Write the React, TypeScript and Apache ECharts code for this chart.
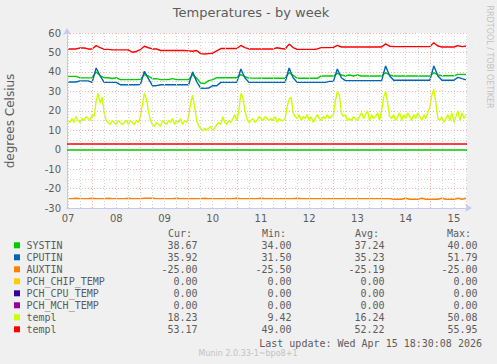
import React, { useEffect, useRef } from 'react';
import * as echarts from 'echarts';

const chartTitle = 'Temperatures - by week';
const yAxisTitle = 'degrees Celsius';
const watermark = 'RRDTOOL / TOBI OETIKER';
const lastUpdate = 'Last update: Wed Apr 15 18:30:08 2026';
const footer = 'Munin 2.0.33-1~bpo8+1';

// x values are hours after day "07" 00:00
const dayLabels = ['07', '08', '09', '10', '11', '12', '13', '14', '15'];
const startHour = 12;
const stepHours = 2;
const yellowStepHours = 1;
const axisMinHour = 11.5;
const axisMaxHour = 210.5;

const yTicks = { min: -30, max: 60, interval: 10 };

const systin = [
  37.7, 37.7, 37.7, 36.9, 36.9, 36.9, 36.9, 40.0, 38.0, 37.0,
  37.0, 36.6, 37.0, 36.0, 36.0, 36.0, 36.0, 36.0, 36.2, 38.6,
  37.8, 36.5, 36.5, 36.0, 36.0, 36.0, 36.5, 36.0, 36.0, 36.0,
  36.0, 38.5, 36.8, 34.3, 34.0, 35.5, 36.0, 37.0, 37.0, 37.0,
  37.0, 37.0, 37.0, 38.6, 37.5, 36.8, 36.8, 36.8, 36.7, 36.7,
  36.7, 36.7, 36.7, 36.7, 36.7, 39.6, 38.2, 36.7, 36.7, 36.7,
  36.7, 36.7, 36.7, 37.9, 37.9, 37.9, 37.9, 39.2, 38.4, 37.9,
  38.4, 37.9, 38.4, 37.9, 37.9, 37.9, 37.9, 37.9, 37.9, 39.6,
  38.5, 37.9, 37.9, 37.9, 37.9, 37.9, 37.9, 37.9, 37.9, 37.9,
  37.9, 39.6, 38.5, 38.0, 38.0, 38.0, 38.0, 38.7, 38.7, 38.67,
];
const cputin = [
  34.8, 34.8, 34.8, 35.4, 35.4, 35.4, 34.6, 42.0, 38.0, 34.6,
  34.6, 34.6, 34.6, 33.4, 33.4, 33.4, 33.4, 33.4, 33.5, 40.3,
  36.5, 32.9, 32.9, 33.4, 33.4, 33.4, 33.4, 33.4, 33.4, 33.4,
  33.4, 40.0, 35.0, 31.7, 31.5, 31.7, 32.9, 32.9, 34.6, 34.6,
  34.6, 34.6, 34.6, 41.5, 37.0, 34.6, 34.6, 34.6, 34.6, 34.6,
  34.6, 34.6, 34.6, 34.6, 34.6, 42.0, 37.0, 34.6, 34.6, 34.6,
  34.6, 34.6, 34.6, 34.6, 34.6, 35.1, 35.1, 41.5, 37.0, 35.5,
  35.5, 35.5, 35.5, 35.5, 35.5, 35.5, 35.5, 35.5, 35.5, 43.0,
  38.0, 35.7, 35.7, 35.7, 35.7, 35.7, 35.7, 35.7, 35.7, 35.7,
  35.7, 43.0, 38.0, 35.7, 35.7, 35.7, 35.7, 37.2, 36.5, 35.92,
];
const auxtin = [
  -25.2, -25.2, -25.0, -25.2, -25.2, -25.2, -25.0, -25.2, -25.2, -25.2,
  -25.0, -25.2, -25.2, -25.2, -25.2, -25.0, -25.2, -25.2, -25.2, -25.0,
  -25.0, -25.0, -25.2, -25.2, -25.2, -25.2, -25.2, -25.0, -25.2, -25.2,
  -25.2, -25.2, -25.2, -25.2, -25.0, -25.2, -25.2, -25.2, -25.2, -25.2,
  -25.2, -25.2, -25.0, -25.2, -25.2, -25.2, -25.2, -25.2, -25.0, -25.2,
  -25.2, -25.2, -25.2, -25.2, -25.2, -25.2, -25.2, -25.0, -25.2, -25.2,
  -25.2, -25.2, -25.2, -25.2, -25.2, -25.2, -25.2, -25.2, -25.2, -25.2,
  -25.2, -25.2, -25.2, -25.2, -25.2, -25.2, -25.2, -25.2, -25.2, -25.2,
  -25.2, -25.5, -25.5, -25.5, -25.0, -25.5, -25.5, -25.5, -25.0, -25.5,
  -25.5, -25.5, -25.5, -25.0, -25.5, -25.5, -25.5, -25.0, -25.5, -25.0,
];
// hourly samples
const temp1Yellow = [
  15, 14, 16, 14, 17, 15, 14, 16, 15, 17,
  16, 15, 18, 17, 25, 29, 24, 27, 19, 15,
  14, 13, 15, 14, 13, 15, 14, 13, 14, 15,
  13, 15, 14, 13, 15, 14, 17, 23, 29, 26,
  20, 15, 13, 12, 14, 13, 12, 15, 14, 13,
  15, 14, 16, 13, 15, 14, 16, 13, 15, 14,
  17, 24, 28, 22, 15, 12, 11, 9.5, 11, 10,
  11, 12, 10, 11, 13, 14, 13, 17, 14, 13,
  15, 14, 16, 18, 15, 20, 29, 27, 20, 16,
  14, 15, 16, 14, 15, 17, 16, 15, 17, 16,
  15, 16, 15, 17, 14, 16, 15, 15, 16, 22,
  26, 27, 19, 17, 16, 18, 15, 17, 16, 18,
  15, 17, 14, 16, 18, 16, 15, 17, 16, 18,
  16, 17, 18, 25, 30, 28, 19, 17, 18, 15,
  16, 15, 17, 16, 15, 17, 19, 16, 18, 20,
  15, 18, 16, 17, 19, 15, 20, 27, 30, 24,
  17, 16, 18, 15, 17, 19, 15, 18, 16, 19,
  17, 15, 18, 16, 19, 17, 15, 18, 16, 19,
  22, 28, 31, 24, 16, 15, 17, 14, 16, 18,
  15, 19, 14, 17, 20, 15, 19, 16, 18.23,
];
const temp1Red = [
  51.8, 51.8, 51.8, 52.3, 52.3, 51.8, 51.8, 53.5, 52.5, 51.6,
  51.6, 51.3, 51.3, 51.3, 51.3, 51.3, 50.1, 50.5, 51.5, 53.2,
  52.4, 51.8, 51.8, 51.0, 51.0, 51.0, 51.0, 51.0, 51.0, 51.0,
  50.8, 50.6, 51.0, 49.4, 49.2, 49.4, 49.6, 50.8, 52.0, 52.0,
  52.0, 52.0, 52.0, 53.6, 52.5, 51.8, 51.8, 51.8, 51.8, 51.8,
  51.8, 51.8, 52.4, 52.0, 51.8, 54.3, 52.5, 51.6, 51.6, 51.6,
  51.6, 51.6, 51.8, 52.5, 52.5, 52.5, 52.6, 53.6, 52.8, 52.8,
  52.8, 52.8, 52.8, 52.8, 52.8, 52.8, 52.8, 52.8, 52.8, 54.4,
  53.2, 53.0, 53.0, 53.0, 53.0, 53.0, 53.0, 53.0, 53.0, 53.0,
  53.0, 55.0, 53.3, 52.8, 52.8, 52.8, 52.8, 53.5, 53.0, 53.17,
];

// horizontal rule lines
const ruleValues = [3, 0];
const ruleColors = ['#ff0000', '#00cc00'];

const legendNames = ['SYSTIN', 'CPUTIN', 'AUXTIN', 'PCH_CHIP_TEMP', 'PCH_CPU_TEMP', 'PCH_MCH_TEMP', 'templ', 'templ'];
const legendColors = ['#00cc00', '#0066b3', '#ff8000', '#ffcc00', '#330099', '#990099', '#ccff00', '#ff0000'];
const curValues = ['38.67', '35.92', '-25.00', '0.00', '0.00', '0.00', '18.23', '53.17'];
const minValues = ['34.00', '31.50', '-25.50', '0.00', '0.00', '0.00', '9.42', '49.00'];
const avgValues = ['37.24', '35.23', '-25.19', '0.00', '0.00', '0.00', '16.24', '52.22'];
const maxValues = ['40.00', '51.79', '-25.00', '0.00', '0.00', '0.00', '50.08', '55.95'];
const columnHeaders = ['Cur:', 'Min:', 'Avg:', 'Max:'];

const plotted = [
  { values: systin, color: '#00cc00', step: stepHours },
  { values: cputin, color: '#0066b3', step: stepHours },
  { values: auxtin, color: '#ff8000', step: stepHours },
  { values: temp1Yellow, color: '#ccff00', step: yellowStepHours },
  { values: temp1Red, color: '#ff0000', step: stepHours },
];

const TEXT = '#5c5c5c';
const MONO = '"DejaVu Sans Mono", monospace';
const SANS = '"DejaVu Sans", sans-serif';
const MAJOR = '#f5b4b4';
const MINOR = '#d4d4d4';
const AXIS = '#c4c8f4';

function txt(text: string, x: number, y: number, opts: any = {}) {
  const align = opts.align || 'left';
  return {
    type: 'text',
    x,
    y,
    rotation: opts.rotation || 0,
    silent: true,
    style: {
      text,
      fill: opts.fill || TEXT,
      fontSize: opts.fontSize || 10,
      fontFamily: opts.fontFamily || MONO,
      textAlign: align,
      align,
      textVerticalAlign: 'middle',
      verticalAlign: 'middle',
    },
  };
}

export default function App() {
  const ref = useRef<HTMLDivElement>(null);
  useEffect(() => {
    if (!ref.current) return;
    const chart = echarts.init(ref.current, null, { renderer: 'svg' });

    const labelHours = dayLabels.map((_, k) => 12 + 24 * k);
    const majorHours: number[] = [];
    const minorHours: number[] = [];
    for (let h = 6; h <= axisMaxHour; h += 6) {
      if (h < axisMinHour) continue;
      if (h % 24 === 0) majorHours.push(h);
      else minorHours.push(h);
    }

    const lineSeries = plotted.map((p) => ({
      type: 'line',
      data: p.values.map((v, i) => [startHour + i * p.step, v]),
      showSymbol: false,
      symbol: 'none',
      silent: true,
      z: 3,
      lineStyle: { color: p.color, width: 1.4 },
      itemStyle: { color: p.color },
    }));

    const gridSeries = {
      type: 'line',
      data: [],
      silent: true,
      z: 1,
      markLine: {
        silent: true,
        symbol: ['none', 'none'],
        label: { show: false },
        lineStyle: { type: [1, 2], width: 1 },
        data: [
          ...minorHours.map((h) => ({ xAxis: h, lineStyle: { color: MINOR, type: [1, 2], width: 1 } })),
          ...majorHours.map((h) => ({ xAxis: h, lineStyle: { color: MAJOR, type: [1, 2], width: 1 } })),
        ],
      },
    };

    const ruleSeries = {
      type: 'line',
      data: [],
      silent: true,
      z: 2,
      markLine: {
        silent: true,
        symbol: ['none', 'none'],
        label: { show: false },
        data: ruleValues.map((v, i) => ({
          yAxis: v,
          lineStyle: { color: ruleColors[i], type: 'solid', width: 1.5 },
        })),
      },
    };

    const graphics: any[] = [];
    graphics.push(txt(chartTitle, 251, 12, { align: 'center', fontSize: 13, fontFamily: SANS }));
    graphics.push(txt(yAxisTitle, 10, 121, { align: 'center', fontSize: 12, fontFamily: SANS, rotation: Math.PI / 2 }));
    graphics.push(txt(watermark, 489, 57, { align: 'center', fontSize: 8, fontFamily: SANS, rotation: -Math.PI / 2, fill: '#c2c2c2' }));

    const headerX = [168, 262, 355, 447];
    columnHeaders.forEach((h, i) => graphics.push(txt(h, headerX[i], 233.5)));
    const colRight = [197.5, 291.5, 384.5, 477.5];
    const cols = [curValues, minValues, avgValues, maxValues];
    legendNames.forEach((name, r) => {
      const y = 245.3 + 12 * r;
      graphics.push({
        type: 'rect',
        silent: true,
        shape: { x: 14, y: y - 3, width: 6, height: 6 },
        style: { fill: legendColors[r] },
      });
      graphics.push(txt(name, 26.5, y));
      cols.forEach((c, ci) => graphics.push(txt(c[r], colRight[ci], y, { align: 'right' })));
    });
    graphics.push(txt(lastUpdate, 482, 343, { align: 'right' }));
    graphics.push(txt(footer, 248, 353.5, { align: 'center', fontSize: 8, fontFamily: SANS, fill: '#c2c2c2' }));

    chart.setOption({
      animation: false,
      backgroundColor: '#f0f0f0',
      textStyle: { fontFamily: SANS },
      grid: {
        left: 67,
        top: 33,
        width: 400,
        height: 175,
        show: true,
        backgroundColor: '#ffffff',
        borderWidth: 0,
        containLabel: false,
        outerBoundsMode: 'none',
      },
      xAxis: {
        type: 'value',
        min: axisMinHour,
        max: axisMaxHour,
        axisLine: {
          show: true,
          onZero: false,
          lineStyle: { color: AXIS, width: 1 },
          symbol: ['none', 'arrow'],
          symbolSize: [6, 7],
          symbolOffset: [0, 5],
        },
        axisTick: { show: false },
        splitLine: { show: false },
        axisLabel: {
          customValues: labelHours,
          formatter: (v: number) => dayLabels[Math.round((v - 12) / 24)] ?? '',
          color: TEXT,
          fontSize: 10,
          fontFamily: SANS,
          margin: 5,
        },
      },
      yAxis: {
        type: 'value',
        min: yTicks.min,
        max: yTicks.max,
        interval: yTicks.interval,
        axisLine: {
          show: true,
          onZero: false,
          lineStyle: { color: AXIS, width: 1 },
          symbol: ['none', 'arrow'],
          symbolSize: [6, 7],
          symbolOffset: [0, 5],
        },
        axisTick: { show: false },
        axisLabel: { color: TEXT, fontSize: 10, fontFamily: SANS, margin: 6 },
        splitLine: { show: true, lineStyle: { color: MAJOR, type: [1, 2], width: 1 } },
        minorTick: { show: false, splitNumber: 2 },
        minorSplitLine: { show: true, lineStyle: { color: MINOR, type: [1, 2], width: 1 } },
      },
      series: [gridSeries, ruleSeries, ...lineSeries],
      graphic: { elements: graphics },
    });
    return () => chart.dispose();
  }, []);
  return <div ref={ref} style={{ position: 'absolute', left: 0, top: 0, width: 497, height: 364 }} />;
}
